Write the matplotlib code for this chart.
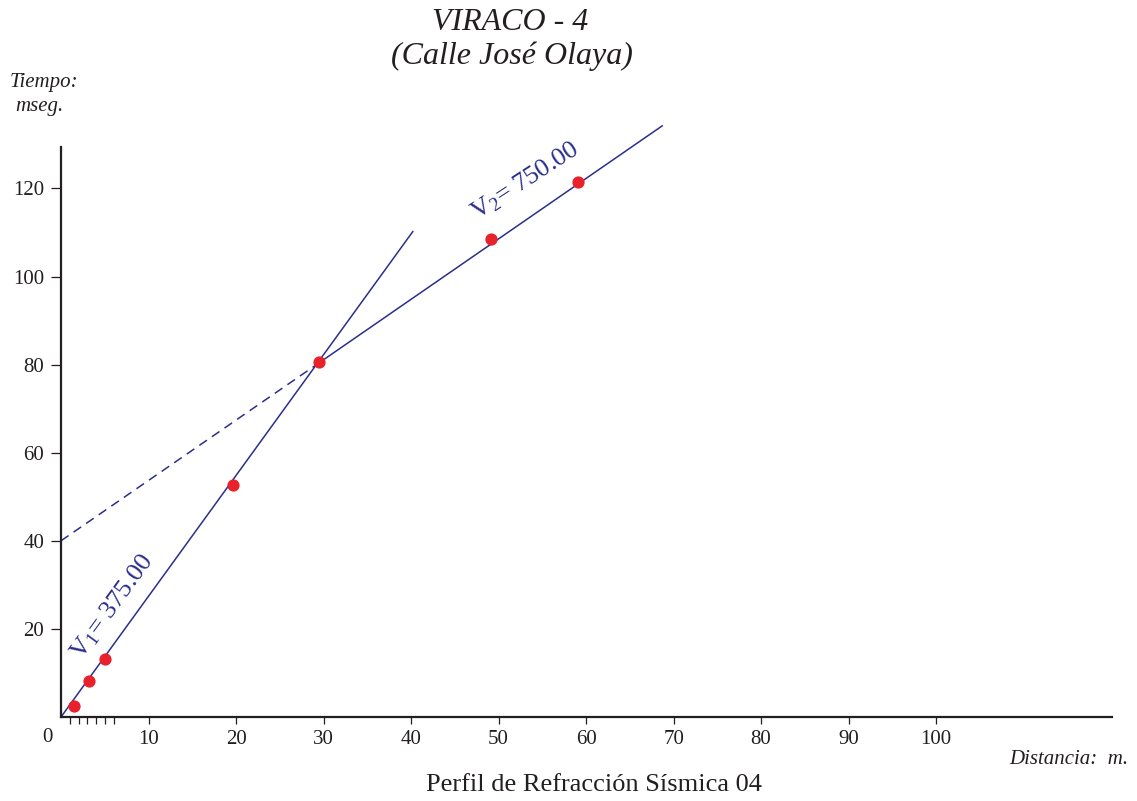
import matplotlib
matplotlib.use("Agg")
import matplotlib.pyplot as plt
import numpy as np

# Data
dist = [1.5, 3.2, 5.0, 19.7, 29.5, 49.1, 59.1]
time = [2.5, 8.2, 13.2, 52.7, 80.7, 108.6, 121.4]

# Velocity lines (x, t endpoints)
line1_x = [0, 40.2]
line1_t = [0, 110.2]
line2_x = [29.2, 68.7]
line2_t = [80.0, 134.2]
dash_x = [0, 29.2]
dash_t = [40.0, 80.0]

xticks = [10, 20, 30, 40, 50, 60, 70, 80, 90, 100]
minor_xticks = [1, 2, 3, 4, 5, 6]
yticks = [20, 40, 60, 80, 100, 120]

plt.rcParams['font.family'] = ['Liberation Serif', 'DejaVu Serif']
plt.rcParams['mathtext.fontset'] = 'custom'
plt.rcParams['mathtext.rm'] = 'Liberation Serif'
plt.rcParams['mathtext.it'] = 'Liberation Serif:italic'

navy = '#2b2e8c'
red = '#e8212b'
dark = '#231f20'

fig = plt.figure(figsize=(11.37, 8.01), dpi=100)
ax = fig.add_axes([61/1137, 84/801, (1112-61)/1137, (717-147)/801])
ax.set_xlim(0, 120.1)
ax.set_ylim(0, 129.4)

for s in ['top', 'right']:
    ax.spines[s].set_visible(False)
for s in ['left', 'bottom']:
    ax.spines[s].set_linewidth(1.6)
    ax.spines[s].set_color(dark)

ax.plot(line1_x, line1_t, color=navy, lw=1.1, zorder=2, clip_on=False)
ax.plot(line2_x, line2_t, color=navy, lw=1.1, zorder=2, clip_on=False)
ax.plot(dash_x, dash_t, color=navy, lw=1.1, ls=(0, (6, 4)), zorder=2, clip_on=False)
ax.plot(dist, time, 'o', color=red, ms=7.8, mec=red, zorder=3, clip_on=False)

ax.set_xticks(xticks)
ax.set_xticklabels([str(v) for v in xticks])
ax.set_xticks(minor_xticks, minor=True)
ax.set_yticks(yticks)
ax.set_yticklabels([str(v) for v in yticks])
ax.tick_params(axis='x', which='both', direction='out', length=5, width=0.9,
               color=dark, labelsize=15, pad=4, labelcolor=dark)
ax.tick_params(axis='y', direction='out', length=7, width=0.9,
               color=dark, labelsize=15, pad=5, labelcolor=dark)
ax.text(-1.6, -2.5, '0', ha='center', va='top', fontsize=15, color=dark)

# Labels on lines
ax.text(5.9, 25.0, r'V$_1$= 375.00', rotation=54, rotation_mode='anchor',
        ha='center', va='center', fontsize=19, color=navy)
ax.text(53.1, 121.8, r'V$_2$= 750.00', rotation=33, rotation_mode='anchor',
        ha='center', va='center', fontsize=19, color=navy)

fig.text(510/1137, 1 - 22/801, 'VIRACO - 4', ha='center', va='center',
         fontsize=23, style='italic', color=dark)
fig.text(512/1137, 1 - 56/801, '(Calle José Olaya)', ha='center', va='center',
         fontsize=23, style='italic', color=dark)
fig.text(10/1137, 1 - 83/801, 'Tiempo:', ha='left', va='center',
         fontsize=15, style='italic', color=dark)
fig.text(15/1137, 1 - 106/801, 'mseg.', ha='left', va='center',
         fontsize=15, style='italic', color=dark)
fig.text(1128/1137, 1 - 760/801, 'Distancia:  m.', ha='right', va='center',
         fontsize=15, style='italic', color=dark)
fig.text(594/1137, 1 - 785/801, 'Perfil de Refracción Sísmica 04', ha='center',
         va='center', fontsize=19, color=dark)

fig.savefig('out.png', dpi=100)
